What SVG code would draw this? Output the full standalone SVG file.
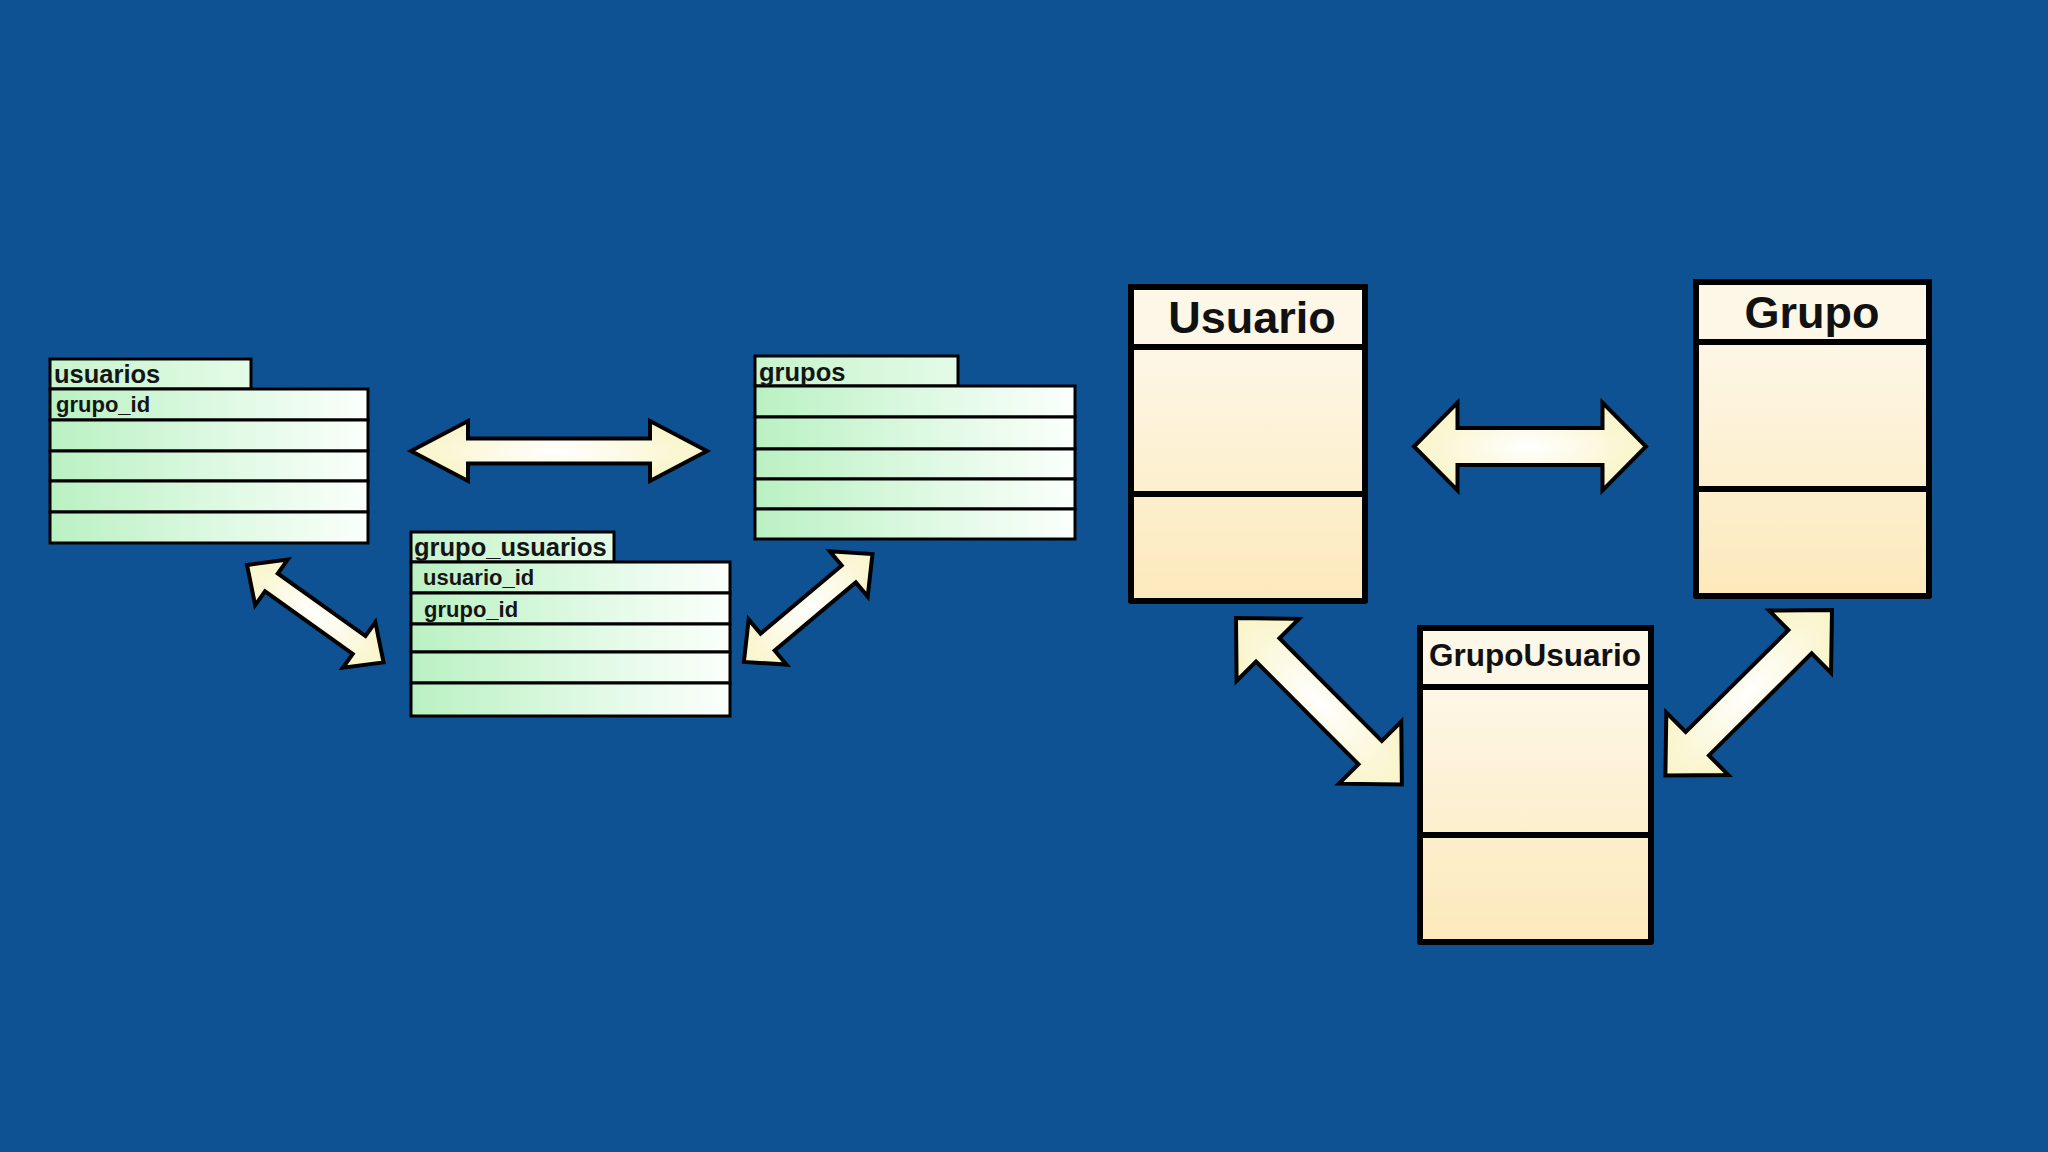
<svg xmlns="http://www.w3.org/2000/svg" width="2048" height="1152" viewBox="0 0 2048 1152">
<defs>
<linearGradient id="rowG" x1="0" y1="0" x2="1" y2="0">
<stop offset="0" stop-color="#b9f1c2"/>
<stop offset="0.6" stop-color="#e2fae6"/>
<stop offset="1" stop-color="#fbfffb"/>
</linearGradient>
<linearGradient id="tabG" x1="0" y1="0" x2="1" y2="0">
<stop offset="0" stop-color="#c6f4cc"/>
<stop offset="1" stop-color="#e4fbe7"/>
</linearGradient>
<linearGradient id="umlG" x1="0" y1="0" x2="0" y2="1">
<stop offset="0" stop-color="#fefaf0"/>
<stop offset="1" stop-color="#fce9bb"/>
</linearGradient>
<radialGradient id="arrG" cx="0.5" cy="0.5" r="0.55">
<stop offset="0" stop-color="#ffffff"/>
<stop offset="1" stop-color="#f8f3c2"/>
</radialGradient>
<style>
.row{fill:url(#rowG);stroke:#000;stroke-width:3}
.tab{fill:url(#tabG);stroke:#000;stroke-width:3}
.tt{font-family:"Liberation Sans",Arial,sans-serif;font-weight:bold;font-size:25.5px;fill:#151515}
.ft{font-family:"Liberation Sans",Arial,sans-serif;font-weight:bold;font-size:22px;fill:#151515}
.box{fill:url(#umlG);stroke:#000;stroke-width:6;stroke-linejoin:round}
.ttl{fill:#fdf7e8;stroke:#000;stroke-width:6}
.div{stroke:#000;stroke-width:6}
.ut{font-family:"Liberation Sans",Arial,sans-serif;font-weight:bold;font-size:45px;fill:#111;text-anchor:middle}
.gu{font-family:"Liberation Sans",Arial,sans-serif;font-weight:bold;font-size:31.5px;fill:#111;text-anchor:middle}
.arr{fill:url(#arrG);stroke:#000;stroke-width:4;stroke-linejoin:miter}
</style>
</defs>
<rect x="0" y="0" width="2048" height="1152" fill="#0e5294"/>

<g id="usuarios">
<rect class="tab" x="50" y="359" width="201" height="30"/>
<rect class="row" x="50" y="389" width="318" height="31"/>
<rect class="row" x="50" y="420" width="318" height="31"/>
<rect class="row" x="50" y="451" width="318" height="30"/>
<rect class="row" x="50" y="481" width="318" height="31"/>
<rect class="row" x="50" y="512" width="318" height="31"/>
<text class="tt" x="54" y="383">usuarios</text>
<text class="ft" x="56" y="412">grupo_id</text>
</g>

<g id="grupos">
<rect class="tab" x="755" y="356" width="203" height="30"/>
<rect class="row" x="755" y="386" width="320" height="31"/>
<rect class="row" x="755" y="417" width="320" height="32"/>
<rect class="row" x="755" y="449" width="320" height="30"/>
<rect class="row" x="755" y="479" width="320" height="30"/>
<rect class="row" x="755" y="509" width="320" height="30"/>
<text class="tt" x="759" y="381">grupos</text>
</g>

<g id="grupo_usuarios">
<rect class="tab" x="411" y="532" width="203" height="30"/>
<rect class="row" x="411" y="562" width="319" height="31"/>
<rect class="row" x="411" y="593" width="319" height="31"/>
<rect class="row" x="411" y="624" width="319" height="28"/>
<rect class="row" x="411" y="652" width="319" height="31"/>
<rect class="row" x="411" y="683" width="319" height="33"/>
<text class="tt" x="414" y="556">grupo_usuarios</text>
<text class="ft" x="423" y="585">usuario_id</text>
<text class="ft" x="424" y="617">grupo_id</text>
</g>

<g id="Usuario">
<rect class="box" x="1131" y="287" width="234" height="314"/>
<rect class="ttl" x="1131" y="287" width="234" height="60"/>
<line class="div" x1="1131" y1="494" x2="1365" y2="494"/>
<text class="ut" x="1252" y="333">Usuario</text>
</g>

<g id="Grupo">
<rect class="box" x="1696" y="282" width="233" height="314"/>
<rect class="ttl" x="1696" y="282" width="233" height="60"/>
<line class="div" x1="1696" y1="489" x2="1929" y2="489"/>
<text class="ut" x="1812" y="328">Grupo</text>
</g>

<g id="GrupoUsuario">
<rect class="box" x="1420" y="628" width="231" height="314"/>
<rect class="ttl" x="1420" y="628" width="231" height="59"/>
<line class="div" x1="1420" y1="835" x2="1651" y2="835"/>
<text class="gu" x="1535" y="666">GrupoUsuario</text>
</g>

<g id="connectors">
<path class="arr" transform="translate(411,451)" d="M0,0 L57,-30 L57,-12.5 L239,-12.5 L239,-30 L296,0 L239,30 L239,12.5 L57,12.5 L57,30 Z"/>
<path class="arr" transform="translate(247,565) rotate(35.5)" d="M0,0 L30,-28 L30,-11 L137.7,-11 L137.7,-28 L167.7,0 L137.7,28 L137.7,11 L30,11 L30,28 Z"/>
<path class="arr" transform="translate(872.5,554) rotate(140)" d="M0,0 L31,-29.5 L31,-11 L136.9,-11 L136.9,-29.5 L167.9,0 L136.9,29.5 L136.9,11 L31,11 L31,29.5 Z"/>
<path class="arr" transform="translate(1414,446.5)" d="M0,0 L43.5,-44 L43.5,-18.5 L188.5,-18.5 L188.5,-44 L232,0 L188.5,44 L188.5,18.5 L43.5,18.5 L43.5,44 Z"/>
<path class="arr" transform="translate(1236,618) rotate(45.1)" d="M0,0 L45,-44 L45,-16.5 L190,-16.5 L190,-44 L235,0 L190,44 L190,16.5 L45,16.5 L45,44 Z"/>
<path class="arr" transform="translate(1832,610) rotate(135.2)" d="M0,0 L45,-44 L45,-16.5 L189.8,-16.5 L189.8,-44 L234.8,0 L189.8,44 L189.8,16.5 L45,16.5 L45,44 Z"/>
</g>
</svg>
